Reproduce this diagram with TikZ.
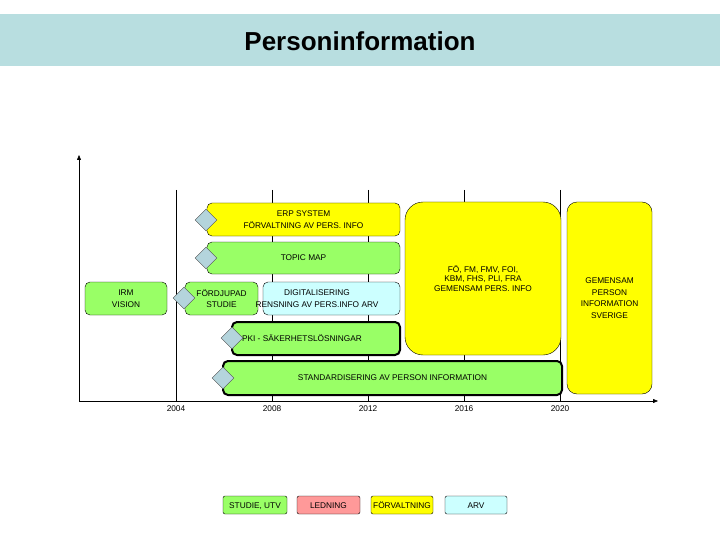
\documentclass[tikz,border=0pt]{standalone}
\usepackage{fontspec}
\setmainfont{Liberation Sans}
\usetikzlibrary{shapes.geometric,arrows.meta}
\definecolor{band}{HTML}{B8DEE0}
\definecolor{gr}{HTML}{99FF66}
\definecolor{ye}{HTML}{FFFF00}
\definecolor{cy}{HTML}{CCFFFF}
\definecolor{pk}{HTML}{FF9999}
\definecolor{dia}{HTML}{B4D4DC}
\begin{document}
\begin{tikzpicture}[x=1pt,y=-1pt,
  bx/.style={draw=black,rounded corners=5pt,align=center,font=\fontsize{8.3}{11.5}\selectfont,inner sep=0pt},
  lg/.style={draw=black,rounded corners=2pt,font=\fontsize{8.3}{9}\selectfont,inner sep=0pt,text height=6pt,text depth=0pt},
  dm/.style={diamond,draw=black!70,fill=dia,minimum width=22pt,minimum height=22pt,inner sep=0pt},
  yr/.style={font=\fontsize{8.3}{9}\selectfont}]
\useasboundingbox (0,0) rectangle (720,540);
\fill[band] (0,14) rectangle (720,66);
\node[font=\bfseries\fontsize{26}{28}\selectfont] (title) at (360,41) {Personinformation};
% grid
\foreach \x/\n in {176/a,272/b,368/c,464/d,560/e} \draw[thin] (\x,190) -- (\x,401);
\coordinate (o) at (79,401); \coordinate (top) at (79,155); \coordinate (right) at (658,401);
\draw[-{Triangle[length=5pt,width=4pt]}] (o) -- (top);
\draw[-{Triangle[length=5pt,width=4pt]}] (o) -- (right);
\foreach \x/\y in {176/2004,272/2008,368/2012,464/2016,560/2020} \node[yr] (y\y) at (\x,409) {\y};
% boxes
\node[bx,fill=ye,minimum width=193pt,minimum height=33pt] (erp) at (303.5,219.5) {ERP SYSTEM\\FÖRVALTNING AV PERS. INFO};
\node[bx,fill=gr,minimum width=193pt,minimum height=32pt] (topic) at (303.5,258) {TOPIC MAP};
\node[bx,fill=gr,minimum width=82pt,minimum height=33pt] (irm) at (126,298.5) {IRM\\VISION};
\node[bx,fill=gr,minimum width=73pt,minimum height=33pt] (ford) at (221.5,298.5) {FÖRDJUPAD\\STUDIE};
\node[bx,fill=cy,minimum width=137pt,minimum height=33pt] (dig) at (331.5,298.5) {};
\node[font=\fontsize{8.3}{11.5}\selectfont,align=center] (digt) at (317,298.5) {DIGITALISERING\\RENSNING AV PERS.INFO ARV};
\node[bx,fill=ye,rounded corners=18pt,minimum width=156pt,minimum height=153pt] (fo) at (483,278.5) {\raisebox{0pt}{\shortstack{FÖ, FM, FMV, FOI,\\KBM, FHS, PLI, FRA\\GEMENSAM PERS. INFO}}};
\node[bx,fill=ye,rounded corners=10pt,minimum width=85pt,minimum height=192pt] (gem) at (609.5,298) {GEMENSAM\\PERSON\\INFORMATION\\SVERIGE};
\node[bx,fill=gr,line width=2pt,minimum width=168pt,minimum height=33pt] (pki) at (316,338.5) {\hspace*{-28pt}PKI - SÄKERHETSLÖSNINGAR};
\node[bx,fill=gr,line width=2pt,minimum width=339pt,minimum height=34pt] (std) at (392.5,378) {STANDARDISERING AV PERSON INFORMATION};
% diamonds
\node[dm] (d1) at (206,220) {};
\node[dm] (d2) at (206,258) {};
\node[dm] (d3) at (184,298) {};
\node[dm] (d4) at (232,338) {};
\node[dm] (d5) at (223,378) {};
% legend
\node[lg,fill=gr,minimum width=64pt,minimum height=18pt] (l1) at (255,505) {STUDIE, UTV};
\node[lg,fill=pk,minimum width=63pt,minimum height=18pt] (l2) at (328.5,505) {LEDNING};
\node[lg,fill=ye,minimum width=62pt,minimum height=18pt] (l3) at (402,505) {FÖRVALTNING};
\node[lg,fill=cy,minimum width=62pt,minimum height=18pt] (l4) at (476,505) {ARV};
\end{tikzpicture}
\end{document}
